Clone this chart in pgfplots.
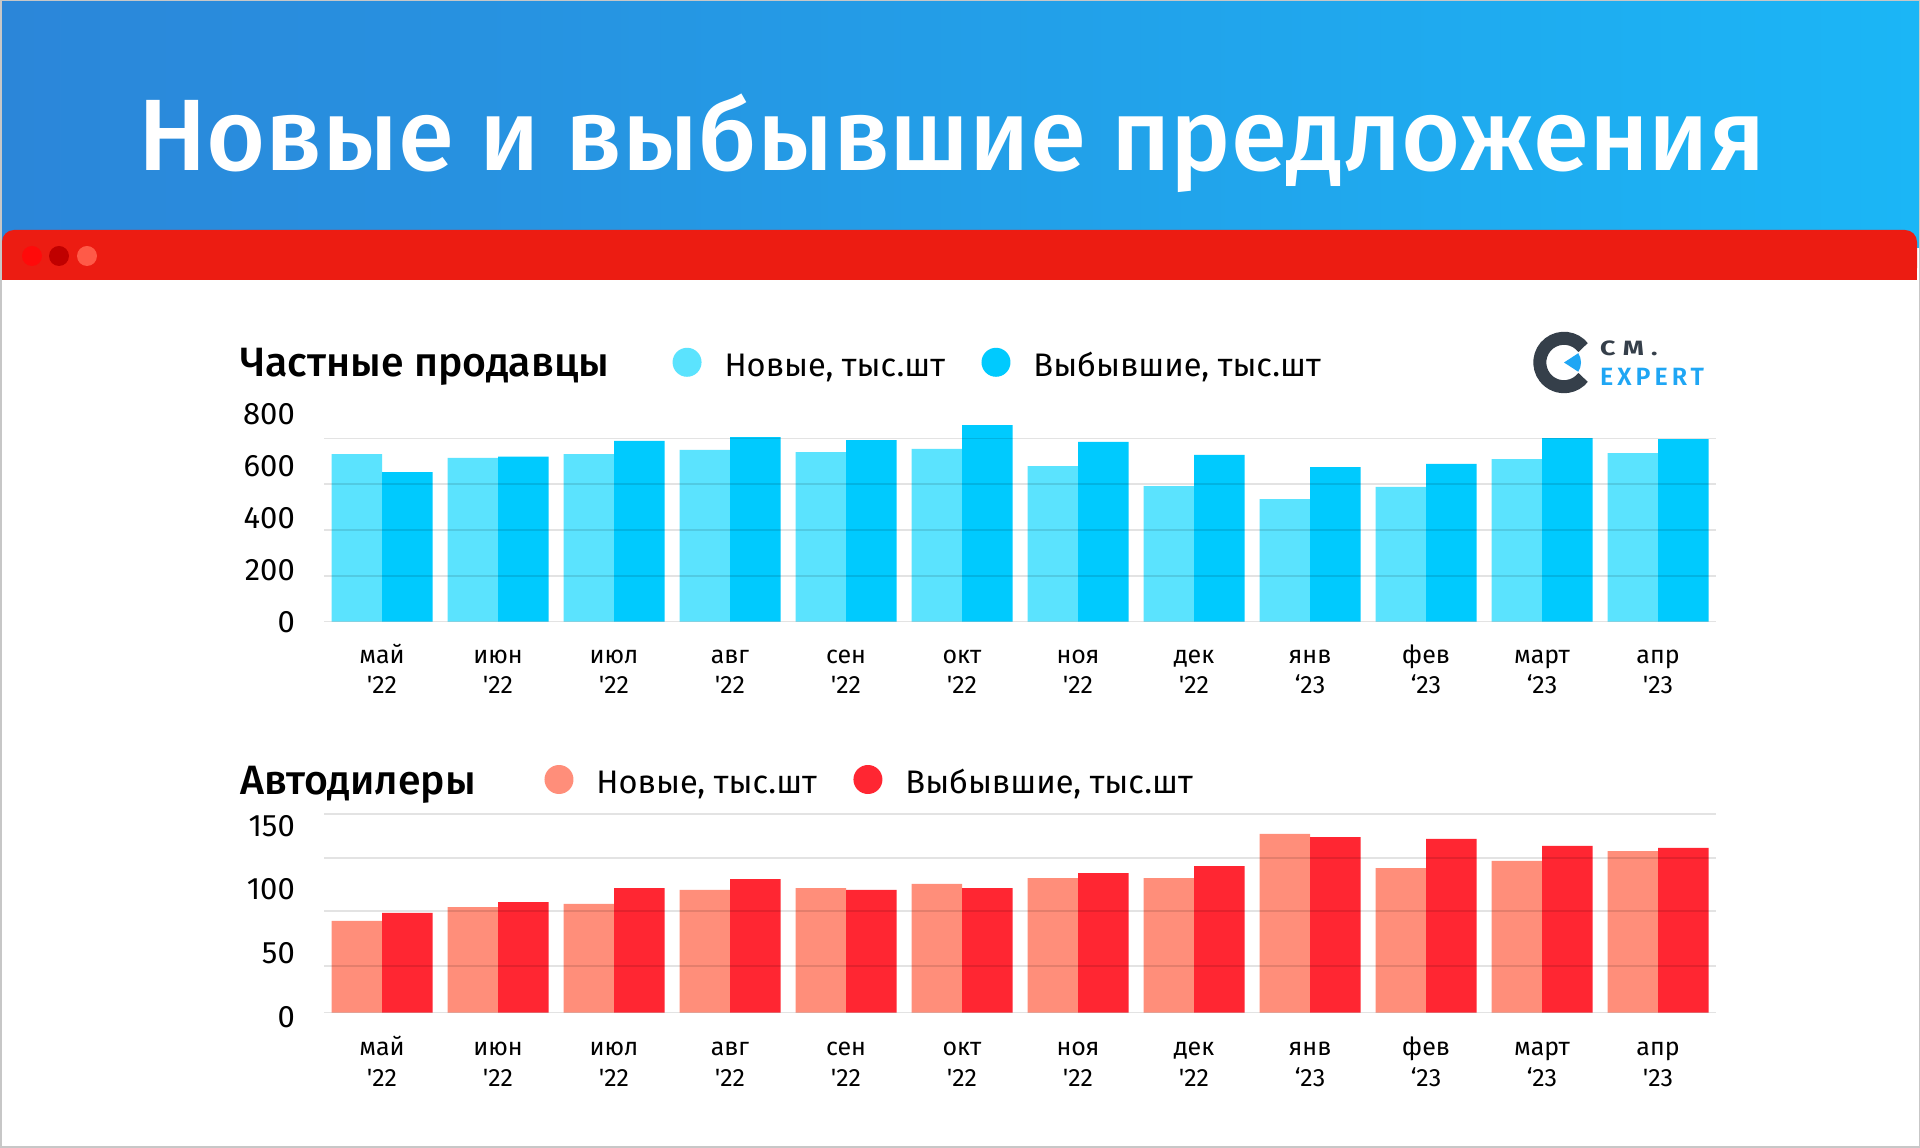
\documentclass[border=0pt]{standalone}
\usepackage{graphicx}
\usepackage{pgfplots}
\pgfplotsset{compat=1.18}
\usepackage{fontspec}
\setmainfont{Fira Sans}
\IfFontExistsTF{Fira Sans SemiBold}{\newfontfamily\semifont{Fira Sans SemiBold}}{\newcommand\semifont{\bfseries}}
\IfFontExistsTF{Fira Sans Medium}{\newfontfamily\medfont{Fira Sans Medium}}{\newcommand\medfont{}}

\definecolor{hdrL}{HTML}{2B86D9}
\definecolor{hdrR}{HTML}{1BB6F6}
\definecolor{redbar}{HTML}{EC1C12}
\definecolor{dotA}{HTML}{FF0A0A}
\definecolor{dotB}{HTML}{C00000}
\definecolor{dotC}{HTML}{FF5A48}
\definecolor{tnew}{HTML}{5BE3FE}
\definecolor{tdrop}{HTML}{00CAFE}
\definecolor{bnew}{HTML}{FF8E7A}
\definecolor{bdrop}{HTML}{FF2632}
\definecolor{logodark}{HTML}{353F4A}
\definecolor{logoblue}{HTML}{1FA6F4}

\newcommand{\cl}[2]{\begin{tabular}[t]{@{}c@{}}#1\\#2\end{tabular}}
\newcommand{\q}{\textquotesingle}

\pgfplotsset{
  mybars/.style={
    scale only axis, width=1392pt, xmin=-0.5, xmax=11.5, ymin=0,
    ybar=0pt, bar width=50.5pt,
    axis on top,
    axis line style={draw=none}, tick style={draw=none},
    xtick={0,...,11},
    xticklabels={{\cl{май}{\q22}},{\cl{июн}{\q22}},{\cl{июл}{\q22}},{\cl{авг}{\q22}},{\cl{сен}{\q22}},{\cl{окт}{\q22}},{\cl{ноя}{\q22}},{\cl{дек}{\q22}},{\cl{янв}{‘23}},{\cl{фев}{‘23}},{\cl{март}{‘23}},{\cl{апр}{\q23}}},
    xticklabel style={anchor=base, inner sep=0pt, font=\fontsize{25}{30.2}\selectfont},
    yticklabel style={anchor=east, inner sep=0pt, xshift=-29pt, font=\fontsize{31}{36}\selectfont},
    extra y tick style={grid=major, major grid style={black, opacity=0.11, line width=1.6pt}},
    extra y tick labels={},
    legend columns=2,
    legend cell align=left,
    legend image code/.code={\fill[##1] (14.5pt,5.7pt) circle (14.5pt);},
    legend style={draw=none, fill=none, inner sep=0pt, outer sep=0pt,
      font=\fontsize{32.6}{38}\selectfont,
      nodes={text height=23pt, text depth=6pt},
      /tikz/every odd column/.append style={column sep=21pt},
      /tikz/every even column/.append style={column sep=34.5pt}},
  }
}

\begin{document}
\begin{tikzpicture}[x=1pt,y=1pt]
\useasboundingbox (0,0) rectangle (1920,1148);
\fill[white] (0,0) rectangle (1920,1148);
% header
\shade[left color=hdrL, right color=hdrR] (0,900) rectangle (1920,1148);
\fill[redbar, rounded corners=12pt] (2,868) rectangle (1917,918);
\fill[redbar] (2,868) rectangle (1917,895);
\fill[white] (0,0) rectangle (1920,868);
\fill[dotA] (32,892) circle (10);
\fill[dotB] (59,892) circle (10);
\fill[dotC] (87,892) circle (10);
\node[anchor=base, inner sep=0pt, text=white, font=\medfont\fontsize{101.5}{110}\selectfont] at (952,977) {Новые и выбывшие предложения};

% section titles
\node[anchor=base west, inner sep=0pt, font=\medfont\fontsize{41}{48}\selectfont] at (240,771.3) {Частные продавцы};
\node[anchor=base west, inner sep=0pt, font=\medfont\fontsize{41}{48}\selectfont] at (240,353.7) {Автодилеры};

% logo
\draw[logodark, line width=13pt] (1564,785.5) ++(38:24.2) arc[start angle=38, end angle=322, radius=24.2];
\fill[logoblue] (1564,785.5) -- ++(-33:17) arc[start angle=-33, end angle=33, radius=17] -- cycle;
\node[anchor=base west, inner sep=0pt, text=logodark, font=\bfseries\fontsize{20.7}{24}\selectfont] at (1600,792) {\scalebox{1.3}[1]{\addfontfeature{LetterSpace=27}CM.}};
\node[anchor=base west, inner sep=0pt, text=logoblue, font=\semifont\fontsize{25}{29}\selectfont] at (1600,762) {\addfontfeature{LetterSpace=16}EXPERT};

% top chart
\begin{axis}[mybars, at={(324pt,526.3pt)}, anchor=south west, height=207.5pt, ymax=800,
  xticklabel style={yshift=-37.5pt},
  ytick={0,200,400,600,800}, yticklabels={0,200,400,600,800},
  extra y ticks={0,176.75,353.5,530.25,707},
  legend style={at={(axis description cs:0.2504,1.2316)}, anchor=west}]
\addplot[fill=tnew, draw=none] coordinates {(0,646) (1,632) (2,646) (3,662) (4,654) (5,666) (6,600) (7,523) (8,473) (9,520) (10,627) (11,650)};
\addlegendentry{Новые, тыс.шт}
\addplot[fill=tdrop, draw=none] coordinates {(0,577) (1,636) (2,697) (3,712) (4,700) (5,758) (6,693) (7,643) (8,596) (9,608) (10,708) (11,704)};
\addlegendentry{Выбывшие, тыс.шт}
\end{axis}

% bottom chart
\begin{axis}[mybars, at={(324pt,135.3pt)}, anchor=south west, height=203.5pt, ymax=160,
  xticklabel style={yshift=-39pt},
  ytick={0,50,100,150}, yticklabels={0,50,100,150},
  yticklabel style={yshift=-4pt},
  extra y ticks={0,36.7,80,121.4,156},
  legend style={at={(axis description cs:0.1584,1.1270)}, anchor=west}]
\addplot[fill=bnew, draw=none] coordinates {(0,72.1) (1,83.1) (2,85.5) (3,96.5) (4,98.0) (5,101.2) (6,105.9) (7,105.9) (8,140.5) (9,113.7) (10,119.3) (11,127.1)};
\addlegendentry{Новые, тыс.шт}
\addplot[fill=bdrop, draw=none] coordinates {(0,78.4) (1,87.0) (2,98.0) (3,105.1) (4,96.5) (5,98.0) (6,109.8) (7,115.3) (8,138.1) (9,136.6) (10,131.1) (11,129.5)};
\addlegendentry{Выбывшие, тыс.шт}
\end{axis}

\draw[black!22, line width=1.5pt] (0.75,0.75) rectangle (1919.25,1147.25);
\end{tikzpicture}
\end{document}
